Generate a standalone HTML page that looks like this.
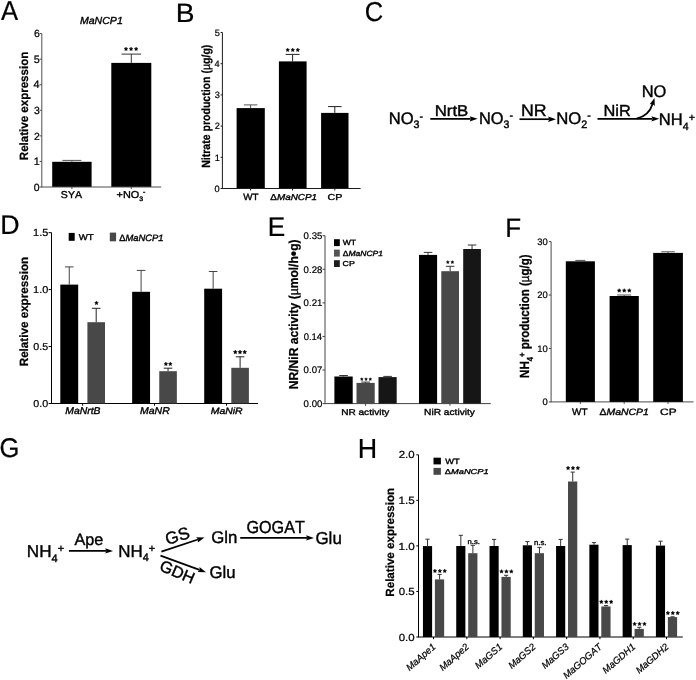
<!DOCTYPE html>
<html><head><meta charset="utf-8"><style>
html,body{margin:0;padding:0;background:#fff;width:696px;height:680px;overflow:hidden}
svg{display:block;will-change:transform}
text{font-family:"Liberation Sans",sans-serif;font-kerning:none;text-rendering:geometricPrecision;fill:#000;stroke:#000;stroke-width:0.22px}
</style></head><body>
<svg width="696" height="680" viewBox="0 0 696 680">
<rect width="696" height="680" fill="#fff"/>
<rect x="52.20" y="161.80" width="39.40" height="25.20" fill="#000"/>
<rect x="111.30" y="62.90" width="40.00" height="124.10" fill="#000"/>
<line x1="71.90" y1="161.80" x2="71.90" y2="160.40" stroke="#555" stroke-width="1"/>
<line x1="62.40" y1="160.40" x2="81.40" y2="160.40" stroke="#555" stroke-width="1"/>
<line x1="131.30" y1="62.90" x2="131.30" y2="54.10" stroke="#333" stroke-width="1"/>
<line x1="121.55" y1="54.10" x2="141.05" y2="54.10" stroke="#333" stroke-width="1"/>
<polygon points="125.99,47.00 126.58,48.19 127.89,48.38 126.94,49.30 127.16,50.60 125.99,49.99 124.82,50.60 125.05,49.30 124.10,48.38 125.41,48.19" fill="#000" stroke="#000" stroke-width="0.4" stroke-linejoin="round"/>
<polygon points="131.05,47.00 131.63,48.19 132.94,48.38 132.00,49.30 132.22,50.60 131.05,49.99 129.88,50.60 130.10,49.30 129.16,48.38 130.47,48.19" fill="#000" stroke="#000" stroke-width="0.4" stroke-linejoin="round"/>
<polygon points="136.11,47.00 136.69,48.19 138.00,48.38 137.05,49.30 137.28,50.60 136.11,49.99 134.94,50.60 135.16,49.30 134.21,48.38 135.52,48.19" fill="#000" stroke="#000" stroke-width="0.4" stroke-linejoin="round"/>
<line x1="41.80" y1="33.50" x2="41.80" y2="187.50" stroke="#4d4d4d" stroke-width="1"/>
<line x1="41.80" y1="187.00" x2="161.20" y2="187.00" stroke="#4d4d4d" stroke-width="1"/>
<line x1="39.60" y1="187.00" x2="41.80" y2="187.00" stroke="#4d4d4d" stroke-width="1"/>
<line x1="39.60" y1="161.43" x2="41.80" y2="161.43" stroke="#4d4d4d" stroke-width="1"/>
<line x1="39.60" y1="135.86" x2="41.80" y2="135.86" stroke="#4d4d4d" stroke-width="1"/>
<line x1="39.60" y1="110.29" x2="41.80" y2="110.29" stroke="#4d4d4d" stroke-width="1"/>
<line x1="39.60" y1="84.72" x2="41.80" y2="84.72" stroke="#4d4d4d" stroke-width="1"/>
<line x1="39.60" y1="59.15" x2="41.80" y2="59.15" stroke="#4d4d4d" stroke-width="1"/>
<line x1="39.60" y1="33.58" x2="41.80" y2="33.58" stroke="#4d4d4d" stroke-width="1"/>
<line x1="71.90" y1="187.00" x2="71.90" y2="189.00" stroke="#4d4d4d" stroke-width="1"/>
<line x1="131.30" y1="187.00" x2="131.30" y2="189.00" stroke="#4d4d4d" stroke-width="1"/>
<rect x="236.60" y="108.10" width="28.20" height="80.40" fill="#000"/>
<rect x="278.90" y="61.40" width="27.70" height="127.10" fill="#000"/>
<rect x="321.10" y="112.90" width="27.40" height="75.60" fill="#000"/>
<line x1="250.60" y1="108.10" x2="250.60" y2="104.90" stroke="#555" stroke-width="1"/>
<line x1="243.85" y1="104.90" x2="257.35" y2="104.90" stroke="#555" stroke-width="1"/>
<line x1="292.60" y1="61.40" x2="292.60" y2="54.40" stroke="#222" stroke-width="1"/>
<line x1="285.60" y1="54.40" x2="299.60" y2="54.40" stroke="#222" stroke-width="1"/>
<line x1="334.80" y1="112.90" x2="334.80" y2="106.60" stroke="#222" stroke-width="1"/>
<line x1="328.05" y1="106.60" x2="341.55" y2="106.60" stroke="#222" stroke-width="1"/>
<polygon points="287.69,48.00 288.28,49.19 289.59,49.38 288.64,50.30 288.86,51.60 287.69,50.99 286.52,51.60 286.75,50.30 285.80,49.38 287.11,49.19" fill="#000" stroke="#000" stroke-width="0.4" stroke-linejoin="round"/>
<polygon points="292.75,48.00 293.33,49.19 294.64,49.38 293.70,50.30 293.92,51.60 292.75,50.99 291.58,51.60 291.80,50.30 290.86,49.38 292.17,49.19" fill="#000" stroke="#000" stroke-width="0.4" stroke-linejoin="round"/>
<polygon points="297.81,48.00 298.39,49.19 299.70,49.38 298.75,50.30 298.98,51.60 297.81,50.99 296.64,51.60 296.86,50.30 295.91,49.38 297.22,49.19" fill="#000" stroke="#000" stroke-width="0.4" stroke-linejoin="round"/>
<line x1="222.40" y1="32.50" x2="222.40" y2="189.00" stroke="#1a1a1a" stroke-width="1"/>
<line x1="222.40" y1="188.50" x2="360.60" y2="188.50" stroke="#1a1a1a" stroke-width="1"/>
<line x1="220.60" y1="188.50" x2="222.40" y2="188.50" stroke="#1a1a1a" stroke-width="1"/>
<line x1="220.60" y1="157.30" x2="222.40" y2="157.30" stroke="#1a1a1a" stroke-width="1"/>
<line x1="220.60" y1="126.10" x2="222.40" y2="126.10" stroke="#1a1a1a" stroke-width="1"/>
<line x1="220.60" y1="94.90" x2="222.40" y2="94.90" stroke="#1a1a1a" stroke-width="1"/>
<line x1="220.60" y1="63.70" x2="222.40" y2="63.70" stroke="#1a1a1a" stroke-width="1"/>
<line x1="220.60" y1="32.50" x2="222.40" y2="32.50" stroke="#1a1a1a" stroke-width="1"/>
<line x1="250.60" y1="188.50" x2="250.60" y2="190.50" stroke="#1a1a1a" stroke-width="1"/>
<line x1="292.60" y1="188.50" x2="292.60" y2="190.50" stroke="#1a1a1a" stroke-width="1"/>
<line x1="334.80" y1="188.50" x2="334.80" y2="190.50" stroke="#1a1a1a" stroke-width="1"/>
<line x1="430.30" y1="118.85" x2="470.70" y2="118.85" stroke="#000" stroke-width="1.7"/>
<polygon points="477.60,118.85 469.70,121.55 470.90,118.85 469.70,116.15" fill="#000"/>
<line x1="519.50" y1="119.20" x2="549.10" y2="119.20" stroke="#000" stroke-width="1.7"/>
<polygon points="556.00,119.20 548.10,121.90 549.30,119.20 548.10,116.50" fill="#000"/>
<line x1="597.50" y1="118.85" x2="652.40" y2="118.85" stroke="#000" stroke-width="1.7"/>
<polygon points="659.30,118.85 651.40,121.55 652.60,118.85 651.40,116.15" fill="#000"/>
<path d="M 636.5 118.6 C 645 116.8, 650.5 111, 652.7 103.5" fill="none" stroke="#000" stroke-width="1.8"/>
<polygon points="654.5,98.0 649.7,104.3 652.6,103.9 654.8,105.9" fill="#000"/>
<line x1="51.50" y1="232.65" x2="51.50" y2="404.00" stroke="#000" stroke-width="1"/>
<line x1="51.50" y1="403.50" x2="258.00" y2="403.50" stroke="#000" stroke-width="1"/>
<line x1="48.60" y1="403.50" x2="51.50" y2="403.50" stroke="#000" stroke-width="1"/>
<line x1="48.60" y1="346.55" x2="51.50" y2="346.55" stroke="#000" stroke-width="1"/>
<line x1="48.60" y1="289.60" x2="51.50" y2="289.60" stroke="#000" stroke-width="1"/>
<line x1="48.60" y1="232.65" x2="51.50" y2="232.65" stroke="#000" stroke-width="1"/>
<rect x="68.70" y="232.90" width="6.00" height="7.90" fill="#000"/>
<rect x="109.80" y="232.60" width="6.30" height="8.70" fill="#484848"/>
<rect x="60.30" y="284.60" width="17.90" height="118.90" fill="#000"/>
<rect x="87.40" y="322.20" width="17.60" height="81.30" fill="#484848"/>
<line x1="69.25" y1="284.60" x2="69.25" y2="266.90" stroke="#444" stroke-width="1"/>
<line x1="64.95" y1="266.90" x2="73.55" y2="266.90" stroke="#444" stroke-width="1"/>
<line x1="96.20" y1="322.20" x2="96.20" y2="308.30" stroke="#222" stroke-width="1"/>
<line x1="91.90" y1="308.30" x2="100.50" y2="308.30" stroke="#222" stroke-width="1"/>
<polygon points="96.45,301.00 97.05,302.22 98.40,302.41 97.42,303.36 97.65,304.70 96.45,304.07 95.25,304.70 95.48,303.36 94.50,302.41 95.85,302.22" fill="#000" stroke="#000" stroke-width="0.4" stroke-linejoin="round"/>
<line x1="82.65" y1="403.50" x2="82.65" y2="405.70" stroke="#000" stroke-width="1"/>
<rect x="132.15" y="291.80" width="17.90" height="111.70" fill="#000"/>
<rect x="159.25" y="371.20" width="17.60" height="32.30" fill="#484848"/>
<line x1="141.10" y1="291.80" x2="141.10" y2="270.40" stroke="#444" stroke-width="1"/>
<line x1="136.80" y1="270.40" x2="145.40" y2="270.40" stroke="#444" stroke-width="1"/>
<line x1="168.05" y1="371.20" x2="168.05" y2="368.20" stroke="#222" stroke-width="1"/>
<line x1="163.75" y1="368.20" x2="172.35" y2="368.20" stroke="#222" stroke-width="1"/>
<polygon points="165.89,362.00 166.48,363.19 167.79,363.38 166.84,364.30 167.06,365.60 165.89,364.99 164.72,365.60 164.95,364.30 164.00,363.38 165.31,363.19" fill="#000" stroke="#000" stroke-width="0.4" stroke-linejoin="round"/>
<polygon points="170.31,362.00 170.89,363.19 172.20,363.38 171.25,364.30 171.48,365.60 170.31,364.99 169.14,365.60 169.36,364.30 168.41,363.38 169.72,363.19" fill="#000" stroke="#000" stroke-width="0.4" stroke-linejoin="round"/>
<line x1="154.50" y1="403.50" x2="154.50" y2="405.70" stroke="#000" stroke-width="1"/>
<rect x="204.20" y="288.70" width="17.90" height="114.80" fill="#000"/>
<rect x="231.30" y="367.80" width="17.60" height="35.70" fill="#484848"/>
<line x1="213.15" y1="288.70" x2="213.15" y2="271.50" stroke="#444" stroke-width="1"/>
<line x1="208.85" y1="271.50" x2="217.45" y2="271.50" stroke="#444" stroke-width="1"/>
<line x1="240.10" y1="367.80" x2="240.10" y2="356.80" stroke="#222" stroke-width="1"/>
<line x1="235.80" y1="356.80" x2="244.40" y2="356.80" stroke="#222" stroke-width="1"/>
<polygon points="235.30,350.00 235.92,351.25 237.30,351.45 236.30,352.43 236.53,353.80 235.30,353.15 234.06,353.80 234.30,352.43 233.30,351.45 234.68,351.25" fill="#000" stroke="#000" stroke-width="0.4" stroke-linejoin="round"/>
<polygon points="240.00,350.00 240.62,351.25 242.00,351.45 241.00,352.43 241.23,353.80 240.00,353.15 238.77,353.80 239.00,352.43 238.00,351.45 239.38,351.25" fill="#000" stroke="#000" stroke-width="0.4" stroke-linejoin="round"/>
<polygon points="244.70,350.00 245.32,351.25 246.70,351.45 245.70,352.43 245.94,353.80 244.70,353.15 243.47,353.80 243.70,352.43 242.70,351.45 244.08,351.25" fill="#000" stroke="#000" stroke-width="0.4" stroke-linejoin="round"/>
<line x1="226.55" y1="403.50" x2="226.55" y2="405.70" stroke="#000" stroke-width="1"/>
<line x1="325.00" y1="235.70" x2="325.00" y2="404.10" stroke="#444" stroke-width="1"/>
<line x1="325.00" y1="403.60" x2="490.80" y2="403.60" stroke="#444" stroke-width="1"/>
<line x1="322.50" y1="403.60" x2="325.00" y2="403.60" stroke="#444" stroke-width="1"/>
<line x1="322.50" y1="370.02" x2="325.00" y2="370.02" stroke="#444" stroke-width="1"/>
<line x1="322.50" y1="336.44" x2="325.00" y2="336.44" stroke="#444" stroke-width="1"/>
<line x1="322.50" y1="302.86" x2="325.00" y2="302.86" stroke="#444" stroke-width="1"/>
<line x1="322.50" y1="269.28" x2="325.00" y2="269.28" stroke="#444" stroke-width="1"/>
<line x1="322.50" y1="235.70" x2="325.00" y2="235.70" stroke="#444" stroke-width="1"/>
<rect x="334.00" y="239.20" width="5.80" height="6.90" fill="#000"/>
<rect x="334.00" y="249.60" width="5.80" height="7.00" fill="#555"/>
<rect x="334.00" y="260.20" width="5.80" height="6.80" fill="#1e1e1e"/>
<rect x="334.40" y="376.50" width="18.30" height="27.10" fill="#000"/>
<line x1="343.55" y1="376.50" x2="343.55" y2="375.50" stroke="#333" stroke-width="1"/>
<line x1="339.25" y1="375.50" x2="347.85" y2="375.50" stroke="#333" stroke-width="1"/>
<rect x="356.50" y="382.90" width="18.20" height="20.70" fill="#484848"/>
<line x1="365.60" y1="382.90" x2="365.60" y2="382.10" stroke="#333" stroke-width="1"/>
<line x1="361.30" y1="382.10" x2="369.90" y2="382.10" stroke="#333" stroke-width="1"/>
<rect x="378.50" y="377.10" width="18.20" height="26.50" fill="#161616"/>
<line x1="387.60" y1="377.10" x2="387.60" y2="376.40" stroke="#333" stroke-width="1"/>
<line x1="383.30" y1="376.40" x2="391.90" y2="376.40" stroke="#333" stroke-width="1"/>
<rect x="419.00" y="254.90" width="18.10" height="148.70" fill="#000"/>
<line x1="428.05" y1="254.90" x2="428.05" y2="252.40" stroke="#333" stroke-width="1"/>
<line x1="423.75" y1="252.40" x2="432.35" y2="252.40" stroke="#333" stroke-width="1"/>
<rect x="441.30" y="271.20" width="17.70" height="132.40" fill="#484848"/>
<line x1="450.15" y1="271.20" x2="450.15" y2="266.30" stroke="#333" stroke-width="1"/>
<line x1="445.85" y1="266.30" x2="454.45" y2="266.30" stroke="#333" stroke-width="1"/>
<rect x="463.20" y="249.00" width="17.70" height="154.60" fill="#161616"/>
<line x1="472.05" y1="249.00" x2="472.05" y2="245.00" stroke="#333" stroke-width="1"/>
<line x1="467.75" y1="245.00" x2="476.35" y2="245.00" stroke="#333" stroke-width="1"/>
<polygon points="361.82,377.70 362.26,378.59 363.24,378.73 362.53,379.42 362.70,380.40 361.82,379.94 360.94,380.40 361.11,379.42 360.40,378.73 361.38,378.59" fill="#000" stroke="#000" stroke-width="0.4" stroke-linejoin="round"/>
<polygon points="366.05,377.70 366.49,378.59 367.47,378.73 366.76,379.42 366.93,380.40 366.05,379.94 365.17,380.40 365.34,379.42 364.63,378.73 365.61,378.59" fill="#000" stroke="#000" stroke-width="0.4" stroke-linejoin="round"/>
<polygon points="370.28,377.70 370.72,378.59 371.70,378.73 370.99,379.42 371.16,380.40 370.28,379.94 369.40,380.40 369.57,379.42 368.86,378.73 369.84,378.59" fill="#000" stroke="#000" stroke-width="0.4" stroke-linejoin="round"/>
<polygon points="447.82,260.60 448.30,261.55 449.35,261.71 448.59,262.45 448.77,263.50 447.82,263.00 446.88,263.50 447.06,262.45 446.30,261.71 447.35,261.55" fill="#000" stroke="#000" stroke-width="0.4" stroke-linejoin="round"/>
<polygon points="452.38,260.60 452.85,261.55 453.90,261.71 453.14,262.45 453.32,263.50 452.38,263.00 451.43,263.50 451.61,262.45 450.85,261.71 451.90,261.55" fill="#000" stroke="#000" stroke-width="0.4" stroke-linejoin="round"/>
<line x1="365.55" y1="403.60" x2="365.55" y2="405.80" stroke="#444" stroke-width="1"/>
<line x1="449.95" y1="403.60" x2="449.95" y2="405.80" stroke="#444" stroke-width="1"/>
<line x1="551.10" y1="241.61" x2="551.10" y2="402.40" stroke="#4a4a4a" stroke-width="1"/>
<line x1="551.10" y1="401.90" x2="693.60" y2="401.90" stroke="#4a4a4a" stroke-width="1"/>
<line x1="548.80" y1="401.90" x2="551.10" y2="401.90" stroke="#4a4a4a" stroke-width="1"/>
<line x1="548.80" y1="348.47" x2="551.10" y2="348.47" stroke="#4a4a4a" stroke-width="1"/>
<line x1="548.80" y1="295.04" x2="551.10" y2="295.04" stroke="#4a4a4a" stroke-width="1"/>
<line x1="548.80" y1="241.61" x2="551.10" y2="241.61" stroke="#4a4a4a" stroke-width="1"/>
<rect x="565.80" y="261.30" width="29.10" height="140.60" fill="#000"/>
<line x1="580.35" y1="261.30" x2="580.35" y2="260.40" stroke="#555" stroke-width="1"/>
<line x1="575.35" y1="260.40" x2="585.35" y2="260.40" stroke="#555" stroke-width="1"/>
<line x1="580.35" y1="401.90" x2="580.35" y2="403.90" stroke="#4a4a4a" stroke-width="1"/>
<rect x="609.60" y="296.00" width="29.20" height="105.90" fill="#000"/>
<line x1="624.20" y1="296.00" x2="624.20" y2="295.00" stroke="#555" stroke-width="1"/>
<line x1="617.20" y1="295.00" x2="631.20" y2="295.00" stroke="#555" stroke-width="1"/>
<line x1="624.20" y1="401.90" x2="624.20" y2="403.90" stroke="#4a4a4a" stroke-width="1"/>
<rect x="653.20" y="252.90" width="29.70" height="149.00" fill="#000"/>
<line x1="668.05" y1="252.90" x2="668.05" y2="251.80" stroke="#555" stroke-width="1"/>
<line x1="661.25" y1="251.80" x2="674.85" y2="251.80" stroke="#555" stroke-width="1"/>
<line x1="668.05" y1="401.90" x2="668.05" y2="403.90" stroke="#4a4a4a" stroke-width="1"/>
<polygon points="619.19,288.60 619.78,289.79 621.09,289.98 620.14,290.90 620.36,292.20 619.19,291.59 618.02,292.20 618.25,290.90 617.30,289.98 618.61,289.79" fill="#000" stroke="#000" stroke-width="0.4" stroke-linejoin="round"/>
<polygon points="624.25,288.60 624.83,289.79 626.14,289.98 625.20,290.90 625.42,292.20 624.25,291.59 623.08,292.20 623.30,290.90 622.36,289.98 623.67,289.79" fill="#000" stroke="#000" stroke-width="0.4" stroke-linejoin="round"/>
<polygon points="629.31,288.60 629.89,289.79 631.20,289.98 630.25,290.90 630.48,292.20 629.31,291.59 628.14,292.20 628.36,290.90 627.41,289.98 628.72,289.79" fill="#000" stroke="#000" stroke-width="0.4" stroke-linejoin="round"/>
<line x1="68.90" y1="550.90" x2="106.20" y2="550.90" stroke="#000" stroke-width="1.7"/>
<polygon points="113.10,550.90 105.20,553.60 106.40,550.90 105.20,548.20" fill="#000"/>
<line x1="161.40" y1="551.60" x2="197.95" y2="539.56" stroke="#000" stroke-width="1.7"/>
<polygon points="204.50,537.40 197.84,542.44 198.14,539.50 196.15,537.31" fill="#000"/>
<line x1="160.50" y1="555.60" x2="199.52" y2="569.92" stroke="#000" stroke-width="1.7"/>
<polygon points="206.00,572.30 197.65,572.11 199.71,569.99 199.51,567.04" fill="#000"/>
<line x1="240.20" y1="537.90" x2="307.10" y2="537.90" stroke="#000" stroke-width="1.7"/>
<polygon points="314.00,537.90 306.10,540.60 307.30,537.90 306.10,535.20" fill="#000"/>
<text transform="translate(167.3,544.9) rotate(-17)" style="font-size:17px;stroke-width:0.4px">GS</text>
<text transform="translate(158.6,570) rotate(23)" style="font-size:16.3px;stroke-width:0.4px">GDH</text>
<line x1="418.50" y1="454.80" x2="418.50" y2="637.50" stroke="#000" stroke-width="1"/>
<line x1="418.50" y1="637.00" x2="682.80" y2="637.00" stroke="#000" stroke-width="1"/>
<line x1="416.30" y1="637.00" x2="418.50" y2="637.00" stroke="#000" stroke-width="1"/>
<line x1="416.30" y1="591.45" x2="418.50" y2="591.45" stroke="#000" stroke-width="1"/>
<line x1="416.30" y1="545.90" x2="418.50" y2="545.90" stroke="#000" stroke-width="1"/>
<line x1="416.30" y1="500.35" x2="418.50" y2="500.35" stroke="#000" stroke-width="1"/>
<line x1="416.30" y1="454.80" x2="418.50" y2="454.80" stroke="#000" stroke-width="1"/>
<rect x="433.50" y="457.70" width="7.40" height="6.70" fill="#000"/>
<rect x="433.50" y="467.90" width="7.40" height="6.90" fill="#484848"/>
<rect x="422.95" y="546.10" width="9.15" height="90.90" fill="#000"/>
<rect x="434.90" y="579.40" width="9.25" height="57.60" fill="#484848"/>
<line x1="427.55" y1="546.10" x2="427.55" y2="539.20" stroke="#333" stroke-width="1"/>
<line x1="425.45" y1="539.20" x2="429.65" y2="539.20" stroke="#333" stroke-width="1"/>
<line x1="439.60" y1="579.40" x2="439.60" y2="574.40" stroke="#333" stroke-width="1"/>
<line x1="437.50" y1="574.40" x2="441.70" y2="574.40" stroke="#333" stroke-width="1"/>
<line x1="433.55" y1="637.00" x2="433.55" y2="639.20" stroke="#000" stroke-width="1"/>
<polygon points="434.94,569.00 435.53,570.19 436.84,570.38 435.89,571.30 436.11,572.60 434.94,571.99 433.77,572.60 434.00,571.30 433.05,570.38 434.36,570.19" fill="#000" stroke="#000" stroke-width="0.4" stroke-linejoin="round"/>
<polygon points="439.85,569.00 440.43,570.19 441.74,570.38 440.80,571.30 441.02,572.60 439.85,571.99 438.68,572.60 438.90,571.30 437.96,570.38 439.27,570.19" fill="#000" stroke="#000" stroke-width="0.4" stroke-linejoin="round"/>
<polygon points="444.76,569.00 445.34,570.19 446.65,570.38 445.70,571.30 445.93,572.60 444.76,571.99 443.59,572.60 443.81,571.30 442.86,570.38 444.17,570.19" fill="#000" stroke="#000" stroke-width="0.4" stroke-linejoin="round"/>
<text transform="translate(436.35,647.80) rotate(-41)" style="font-size:9.6px;font-style:italic" text-anchor="end">MaApe1</text>
<rect x="456.23" y="546.00" width="9.15" height="91.00" fill="#000"/>
<rect x="468.18" y="553.20" width="9.25" height="83.80" fill="#484848"/>
<line x1="460.83" y1="546.00" x2="460.83" y2="535.30" stroke="#333" stroke-width="1"/>
<line x1="458.73" y1="535.30" x2="462.93" y2="535.30" stroke="#333" stroke-width="1"/>
<line x1="472.88" y1="553.20" x2="472.88" y2="545.30" stroke="#333" stroke-width="1"/>
<line x1="470.78" y1="545.30" x2="474.98" y2="545.30" stroke="#333" stroke-width="1"/>
<line x1="466.83" y1="637.00" x2="466.83" y2="639.20" stroke="#000" stroke-width="1"/>
<text transform="translate(469.63,647.80) rotate(-41)" style="font-size:9.6px;font-style:italic" text-anchor="end">MaApe2</text>
<rect x="489.51" y="546.00" width="9.15" height="91.00" fill="#000"/>
<rect x="501.46" y="576.90" width="9.25" height="60.10" fill="#484848"/>
<line x1="494.11" y1="546.00" x2="494.11" y2="539.40" stroke="#333" stroke-width="1"/>
<line x1="492.01" y1="539.40" x2="496.21" y2="539.40" stroke="#333" stroke-width="1"/>
<line x1="506.16" y1="576.90" x2="506.16" y2="575.30" stroke="#333" stroke-width="1"/>
<line x1="504.06" y1="575.30" x2="508.26" y2="575.30" stroke="#333" stroke-width="1"/>
<line x1="500.11" y1="637.00" x2="500.11" y2="639.20" stroke="#000" stroke-width="1"/>
<polygon points="501.50,569.50 502.09,570.69 503.40,570.88 502.45,571.80 502.67,573.10 501.50,572.49 500.33,573.10 500.56,571.80 499.61,570.88 500.92,570.69" fill="#000" stroke="#000" stroke-width="0.4" stroke-linejoin="round"/>
<polygon points="506.41,569.50 506.99,570.69 508.30,570.88 507.36,571.80 507.58,573.10 506.41,572.49 505.24,573.10 505.46,571.80 504.52,570.88 505.83,570.69" fill="#000" stroke="#000" stroke-width="0.4" stroke-linejoin="round"/>
<polygon points="511.32,569.50 511.90,570.69 513.21,570.88 512.26,571.80 512.49,573.10 511.32,572.49 510.15,573.10 510.37,571.80 509.42,570.88 510.73,570.69" fill="#000" stroke="#000" stroke-width="0.4" stroke-linejoin="round"/>
<text transform="translate(502.91,647.80) rotate(-41)" style="font-size:9.6px;font-style:italic" text-anchor="end">MaGS1</text>
<rect x="522.79" y="545.30" width="9.15" height="91.70" fill="#000"/>
<rect x="534.74" y="553.20" width="9.25" height="83.80" fill="#484848"/>
<line x1="527.39" y1="545.30" x2="527.39" y2="541.60" stroke="#333" stroke-width="1"/>
<line x1="525.29" y1="541.60" x2="529.49" y2="541.60" stroke="#333" stroke-width="1"/>
<line x1="539.44" y1="553.20" x2="539.44" y2="547.40" stroke="#333" stroke-width="1"/>
<line x1="537.34" y1="547.40" x2="541.54" y2="547.40" stroke="#333" stroke-width="1"/>
<line x1="533.39" y1="637.00" x2="533.39" y2="639.20" stroke="#000" stroke-width="1"/>
<text transform="translate(536.19,647.80) rotate(-41)" style="font-size:9.6px;font-style:italic" text-anchor="end">MaGS2</text>
<rect x="556.07" y="546.00" width="9.15" height="91.00" fill="#000"/>
<rect x="568.02" y="481.50" width="9.25" height="155.50" fill="#484848"/>
<line x1="560.67" y1="546.00" x2="560.67" y2="539.40" stroke="#333" stroke-width="1"/>
<line x1="558.57" y1="539.40" x2="562.77" y2="539.40" stroke="#333" stroke-width="1"/>
<line x1="572.72" y1="481.50" x2="572.72" y2="472.10" stroke="#333" stroke-width="1"/>
<line x1="570.62" y1="472.10" x2="574.82" y2="472.10" stroke="#333" stroke-width="1"/>
<line x1="566.67" y1="637.00" x2="566.67" y2="639.20" stroke="#000" stroke-width="1"/>
<polygon points="568.06,466.10 568.65,467.29 569.96,467.48 569.01,468.40 569.23,469.70 568.06,469.09 566.89,469.70 567.12,468.40 566.17,467.48 567.48,467.29" fill="#000" stroke="#000" stroke-width="0.4" stroke-linejoin="round"/>
<polygon points="572.97,466.10 573.55,467.29 574.86,467.48 573.92,468.40 574.14,469.70 572.97,469.09 571.80,469.70 572.02,468.40 571.08,467.48 572.39,467.29" fill="#000" stroke="#000" stroke-width="0.4" stroke-linejoin="round"/>
<polygon points="577.88,466.10 578.46,467.29 579.77,467.48 578.82,468.40 579.05,469.70 577.88,469.09 576.71,469.70 576.93,468.40 575.98,467.48 577.29,467.29" fill="#000" stroke="#000" stroke-width="0.4" stroke-linejoin="round"/>
<text transform="translate(569.47,647.80) rotate(-41)" style="font-size:9.6px;font-style:italic" text-anchor="end">MaGS3</text>
<rect x="589.35" y="544.70" width="9.15" height="92.30" fill="#000"/>
<rect x="601.30" y="606.50" width="9.25" height="30.50" fill="#484848"/>
<line x1="593.95" y1="544.70" x2="593.95" y2="542.60" stroke="#333" stroke-width="1"/>
<line x1="591.85" y1="542.60" x2="596.05" y2="542.60" stroke="#333" stroke-width="1"/>
<line x1="606.00" y1="606.50" x2="606.00" y2="605.60" stroke="#333" stroke-width="1"/>
<line x1="603.90" y1="605.60" x2="608.10" y2="605.60" stroke="#333" stroke-width="1"/>
<line x1="599.95" y1="637.00" x2="599.95" y2="639.20" stroke="#000" stroke-width="1"/>
<polygon points="601.34,599.90 601.93,601.09 603.24,601.28 602.29,602.20 602.51,603.50 601.34,602.89 600.17,603.50 600.40,602.20 599.45,601.28 600.76,601.09" fill="#000" stroke="#000" stroke-width="0.4" stroke-linejoin="round"/>
<polygon points="606.25,599.90 606.83,601.09 608.14,601.28 607.20,602.20 607.42,603.50 606.25,602.89 605.08,603.50 605.30,602.20 604.36,601.28 605.67,601.09" fill="#000" stroke="#000" stroke-width="0.4" stroke-linejoin="round"/>
<polygon points="611.16,599.90 611.74,601.09 613.05,601.28 612.10,602.20 612.33,603.50 611.16,602.89 609.99,603.50 610.21,602.20 609.26,601.28 610.57,601.09" fill="#000" stroke="#000" stroke-width="0.4" stroke-linejoin="round"/>
<text transform="translate(602.75,647.80) rotate(-41)" style="font-size:9.6px;font-style:italic" text-anchor="end">MaGOGAT</text>
<rect x="622.63" y="545.10" width="9.15" height="91.90" fill="#000"/>
<rect x="634.58" y="628.90" width="9.25" height="8.10" fill="#484848"/>
<line x1="627.23" y1="545.10" x2="627.23" y2="539.10" stroke="#333" stroke-width="1"/>
<line x1="625.13" y1="539.10" x2="629.33" y2="539.10" stroke="#333" stroke-width="1"/>
<line x1="639.28" y1="628.90" x2="639.28" y2="627.30" stroke="#333" stroke-width="1"/>
<line x1="637.18" y1="627.30" x2="641.38" y2="627.30" stroke="#333" stroke-width="1"/>
<line x1="633.23" y1="637.00" x2="633.23" y2="639.20" stroke="#000" stroke-width="1"/>
<polygon points="634.62,622.00 635.21,623.19 636.52,623.38 635.57,624.30 635.79,625.60 634.62,624.99 633.45,625.60 633.68,624.30 632.73,623.38 634.04,623.19" fill="#000" stroke="#000" stroke-width="0.4" stroke-linejoin="round"/>
<polygon points="639.53,622.00 640.11,623.19 641.42,623.38 640.48,624.30 640.70,625.60 639.53,624.99 638.36,625.60 638.58,624.30 637.64,623.38 638.95,623.19" fill="#000" stroke="#000" stroke-width="0.4" stroke-linejoin="round"/>
<polygon points="644.44,622.00 645.02,623.19 646.33,623.38 645.38,624.30 645.61,625.60 644.44,624.99 643.27,625.60 643.49,624.30 642.54,623.38 643.85,623.19" fill="#000" stroke="#000" stroke-width="0.4" stroke-linejoin="round"/>
<text transform="translate(636.03,647.80) rotate(-41)" style="font-size:9.6px;font-style:italic" text-anchor="end">MaGDH1</text>
<rect x="655.91" y="545.60" width="9.15" height="91.40" fill="#000"/>
<rect x="667.86" y="617.10" width="9.25" height="19.90" fill="#484848"/>
<line x1="660.51" y1="545.60" x2="660.51" y2="541.20" stroke="#333" stroke-width="1"/>
<line x1="658.41" y1="541.20" x2="662.61" y2="541.20" stroke="#333" stroke-width="1"/>
<line x1="672.56" y1="617.10" x2="672.56" y2="616.80" stroke="#333" stroke-width="1"/>
<line x1="670.46" y1="616.80" x2="674.66" y2="616.80" stroke="#333" stroke-width="1"/>
<line x1="666.51" y1="637.00" x2="666.51" y2="639.20" stroke="#000" stroke-width="1"/>
<polygon points="667.90,611.10 668.49,612.29 669.80,612.48 668.85,613.40 669.07,614.70 667.90,614.09 666.73,614.70 666.96,613.40 666.01,612.48 667.32,612.29" fill="#000" stroke="#000" stroke-width="0.4" stroke-linejoin="round"/>
<polygon points="672.81,611.10 673.39,612.29 674.70,612.48 673.76,613.40 673.98,614.70 672.81,614.09 671.64,614.70 671.86,613.40 670.92,612.48 672.23,612.29" fill="#000" stroke="#000" stroke-width="0.4" stroke-linejoin="round"/>
<polygon points="677.72,611.10 678.30,612.29 679.61,612.48 678.66,613.40 678.89,614.70 677.72,614.09 676.55,614.70 676.77,613.40 675.82,612.48 677.13,612.29" fill="#000" stroke="#000" stroke-width="0.4" stroke-linejoin="round"/>
<text transform="translate(669.31,647.80) rotate(-41)" style="font-size:9.6px;font-style:italic" text-anchor="end">MaGDH2</text>
<text transform="translate(0.900,19.500) scale(0.9855,1.0535)" style="font-size:26px;">A</text>
<text transform="translate(175.762,21.900) scale(1.0836,1.0197)" style="font-size:26px;">B</text>
<text transform="translate(364.773,21.337) scale(0.9818,1.0521)" style="font-size:26px;">C</text>
<text transform="translate(0.184,233.900) scale(1.0295,1.0423)" style="font-size:26px;">D</text>
<text transform="translate(267.834,235.600) scale(1.0071,1.0366)" style="font-size:26px;">E</text>
<text transform="translate(505.250,237.100) scale(1.0000,1.0254)" style="font-size:26px;">F</text>
<text transform="translate(-0.428,457.040) scale(0.9824,1.0411)" style="font-size:26px;">G</text>
<text transform="translate(357.772,457.800) scale(1.0345,1.0592)" style="font-size:26px;">H</text>
<text transform="translate(33.725,190.650) scale(1.0429,1.0429)" style="font-size:10px;">0</text>
<text transform="translate(33.793,165.080) scale(1.0815,1.0815)" style="font-size:10px;">1</text>
<text transform="translate(33.986,139.510) scale(1.0429,1.0429)" style="font-size:10px;">2</text>
<text transform="translate(33.986,113.940) scale(1.0429,1.0429)" style="font-size:10px;">3</text>
<text transform="translate(33.522,88.370) scale(1.0815,1.0815)" style="font-size:10px;">4</text>
<text transform="translate(33.793,62.800) scale(1.0815,1.0815)" style="font-size:10px;">5</text>
<text transform="translate(33.986,37.230) scale(1.0429,1.0429)" style="font-size:10px;">6</text>
<text transform="translate(60.874,198.300) scale(1.0513,1.0000)" style="font-size:10px;;stroke-width:0.370px">SYA</text>
<text transform="translate(116.556,198.174) scale(1.0874,1.0105)" style="font-size:10px;;stroke-width:0.362px">+NO<tspan dy="2.6" font-size="6.4">3</tspan><tspan dy="-6.6" font-size="6.4">-</tspan></text>
<text transform="translate(79.936,23.700) scale(1.0557,1.0143)" style="font-size:10px;font-style:italic;stroke-width:0.367px">MaNCP1</text>
<text transform="rotate(-90) translate(-160.160,28.343) scale(1.0133,1.0476)" style="font-size:11.4px;font-weight:bold">Relative expression</text>
<text transform="translate(214.436,191.700) scale(1.0240,1.0240)" style="font-size:9px;">0</text>
<text transform="translate(214.692,160.500) scale(1.0240,1.0240)" style="font-size:9px;">1</text>
<text transform="translate(214.692,129.300) scale(1.0240,1.0240)" style="font-size:9px;">2</text>
<text transform="translate(214.692,98.100) scale(1.0240,1.0240)" style="font-size:9px;">3</text>
<text transform="translate(214.436,66.900) scale(1.0240,1.0240)" style="font-size:9px;">4</text>
<text transform="translate(214.692,35.700) scale(1.0240,1.0240)" style="font-size:9px;">5</text>
<text transform="translate(243.300,199.700) scale(0.9836,0.9037)" style="font-size:10px;;stroke-width:0.403px">WT</text>
<text transform="translate(270.353,199.900) scale(0.9881,0.8571)" style="font-size:10px;;stroke-width:0.412px">&#916;<tspan style="font-style:italic">MaNCP1</tspan></text>
<text transform="translate(327.563,200.200) scale(1.0745,0.8571)" style="font-size:10px;;stroke-width:0.393px">CP</text>
<text transform="rotate(-90) translate(-167.861,209.938) scale(1.0146,1.1385)" style="font-size:10.4px;font-weight:bold">Nitrate production (<tspan style="font-weight:normal">&#181;</tspan>g/g)</text>
<text transform="translate(388.706,123.730) scale(1.0349,1.0426)" style="font-size:16px;;stroke-width:0.385px">NO<tspan dy="4.0" font-size="10.3">3</tspan><tspan dy="-7.9" font-size="10.3">-</tspan></text>
<text transform="translate(479.022,123.503) scale(1.0222,1.0492)" style="font-size:16px;;stroke-width:0.386px">NO<tspan dy="4.0" font-size="10.3">3</tspan><tspan dy="-7.9" font-size="10.3">-</tspan></text>
<text transform="translate(556.194,123.503) scale(1.0444,1.0492)" style="font-size:16px;;stroke-width:0.382px">NO<tspan dy="4.0" font-size="10.3">2</tspan><tspan dy="-7.9" font-size="10.3">-</tspan></text>
<text transform="translate(658.807,125.340) scale(1.0346,1.0400)" style="font-size:16px;;stroke-width:0.386px">NH<tspan dy="4.0" font-size="10.3">4</tspan><tspan dy="-8.6" font-size="10.3">+</tspan></text>
<text transform="translate(641.716,96.839) scale(1.0273,1.0435)" style="font-size:16px;;stroke-width:0.386px">NO</text>
<text transform="translate(434.698,115.600) scale(1.1214,1.0439)" style="font-size:15px;;stroke-width:0.369px">NrtB</text>
<text transform="translate(521.019,115.900) scale(1.1846,1.1220)" style="font-size:15px;;stroke-width:0.347px">NR</text>
<text transform="translate(603.436,115.700) scale(1.0913,1.0605)" style="font-size:15px;;stroke-width:0.372px">NiR</text>
<text transform="translate(33.365,407.000) scale(1.0692,1.0000)" style="font-size:10px;">0.0</text>
<text transform="translate(33.365,350.050) scale(1.0692,1.0000)" style="font-size:10px;">0.5</text>
<text transform="translate(33.082,293.100) scale(1.0902,1.0000)" style="font-size:10px;">1.0</text>
<text transform="translate(33.082,236.150) scale(1.0902,1.0370)" style="font-size:10px;">1.5</text>
<text transform="translate(78.800,239.600) scale(1.0618,0.9280)" style="font-size:9px;;stroke-width:0.382px">WT</text>
<text transform="translate(119.140,240.700) scale(1.0410,1.0240)" style="font-size:9px;;stroke-width:0.368px">&#916;<tspan style="font-style:italic">MaNCP1</tspan></text>
<text transform="translate(65.240,414.400) scale(1.0406,0.9778)" style="font-size:10px;font-style:italic;stroke-width:0.377px">MaNrtB</text>
<text transform="translate(139.937,414.400) scale(1.0523,0.9778)" style="font-size:10px;font-style:italic;stroke-width:0.374px">MaNR</text>
<text transform="translate(210.739,414.400) scale(1.0433,0.9103)" style="font-size:10px;font-style:italic;stroke-width:0.389px">MaNiR</text>
<text transform="rotate(-90) translate(-366.267,28.343) scale(1.0227,1.0476)" style="font-size:11.4px;font-weight:bold">Relative expression</text>
<text transform="translate(303.619,406.950) scale(0.9622,0.9571)" style="font-size:10px;">0.00</text>
<text transform="translate(303.619,373.370) scale(0.9622,0.9571)" style="font-size:10px;">0.07</text>
<text transform="translate(303.625,339.790) scale(0.9493,0.9571)" style="font-size:10px;">0.14</text>
<text transform="translate(303.619,306.210) scale(0.9622,0.9571)" style="font-size:10px;">0.21</text>
<text transform="translate(303.619,272.630) scale(0.9622,0.9571)" style="font-size:10px;">0.28</text>
<text transform="translate(303.619,239.050) scale(0.9622,0.9571)" style="font-size:10px;">0.35</text>
<text transform="translate(342.700,245.300) scale(0.9600,0.8320)" style="font-size:9px;;stroke-width:0.424px">WT</text>
<text transform="translate(342.764,256.200) scale(0.9446,0.8320)" style="font-size:9px;;stroke-width:0.428px">&#916;<tspan style="font-style:italic">MaNCP1</tspan></text>
<text transform="translate(342.509,266.100) scale(0.9826,0.8000)" style="font-size:9px;;stroke-width:0.426px">CP</text>
<text transform="translate(341.144,414.814) scale(1.0085,0.8432)" style="font-size:10px;;stroke-width:0.410px">NR activity</text>
<text transform="translate(424.037,414.749) scale(1.0173,0.8757)" style="font-size:10px;;stroke-width:0.401px">NiR activity</text>
<text transform="rotate(-90) translate(-389.154,297.789) scale(1.0054,1.0844)" style="font-size:12px;font-weight:bold">NR/NiR activity (<tspan style="font-weight:normal">&#181;</tspan>mol/h<tspan font-size="15" dy="1.2">&#8226;</tspan><tspan dy="-1.2">g</tspan>)</text>
<text transform="translate(542.550,405.200) scale(0.9429,0.9429)" style="font-size:10px;">0</text>
<text transform="translate(537.364,351.770) scale(0.9429,0.9429)" style="font-size:10px;">10</text>
<text transform="translate(537.364,298.340) scale(0.9429,0.9429)" style="font-size:10px;">20</text>
<text transform="translate(537.364,244.910) scale(0.9429,0.9429)" style="font-size:10px;">30</text>
<text transform="translate(572.000,415.100) scale(0.9967,0.9481)" style="font-size:10px;;stroke-width:0.391px">WT</text>
<text transform="translate(599.539,415.100) scale(1.0422,0.9143)" style="font-size:10px;;stroke-width:0.388px">&#916;<tspan style="font-style:italic">MaNCP1</tspan></text>
<text transform="translate(660.108,415.100) scale(1.1843,0.9143)" style="font-size:10px;;stroke-width:0.362px">CP</text>
<text transform="rotate(-90) translate(-377.922,529.354) scale(1.0966,1.2585)" style="font-size:10.5px;font-weight:bold">NH<tspan dy="2.6" font-size="7">4</tspan><tspan dy="-6.4" font-size="7">+</tspan><tspan dy="3.8"> production (<tspan style="font-weight:normal">&#181;</tspan>g/g)</tspan></text>
<text transform="translate(26.865,557.333) scale(1.0677,1.0667)" style="font-size:16px;;stroke-width:0.375px">NH<tspan dy="4.0" font-size="10.3">4</tspan><tspan dy="-8.6" font-size="10.3">+</tspan></text>
<text transform="translate(118.277,556.833) scale(1.0586,1.0667)" style="font-size:16px;;stroke-width:0.376px">NH<tspan dy="4.0" font-size="10.3">4</tspan><tspan dy="-8.6" font-size="10.3">+</tspan></text>
<text transform="translate(74.400,545.470) scale(1.0126,1.0246)" style="font-size:16px;;stroke-width:0.393px">Ape</text>
<text transform="translate(211.314,543.334) scale(1.0478,1.0638)" style="font-size:16px;;stroke-width:0.379px">Gln</text>
<text transform="translate(246.443,532.528) scale(1.0097,1.0870)" style="font-size:16px;;stroke-width:0.382px">GOGAT</text>
<text transform="translate(315.404,543.530) scale(1.0609,1.0809)" style="font-size:16px;;stroke-width:0.374px">Glu</text>
<text transform="translate(209.617,577.536) scale(1.0435,1.0553)" style="font-size:16px;;stroke-width:0.381px">Glu</text>
<text transform="translate(398.727,640.600) scale(1.1462,1.0286)" style="font-size:10px;">0.0</text>
<text transform="translate(398.727,595.050) scale(1.1462,1.0286)" style="font-size:10px;">0.5</text>
<text transform="translate(398.424,549.500) scale(1.1686,1.0286)" style="font-size:10px;">1.0</text>
<text transform="translate(398.424,503.950) scale(1.1686,1.0667)" style="font-size:10px;">1.5</text>
<text transform="translate(398.727,458.400) scale(1.1462,1.0286)" style="font-size:10px;">2.0</text>
<text transform="translate(445.300,463.700) scale(1.1592,0.9636)" style="font-size:8px;;stroke-width:0.358px">WT</text>
<text transform="translate(444.810,474.000) scale(1.1592,0.8909)" style="font-size:8px;;stroke-width:0.371px">&#916;<tspan style="font-style:italic">MaNCP1</tspan></text>
<text transform="translate(467.504,543.900) scale(0.8528,0.7789)" style="font-size:9px;;stroke-width:0.429px">n.s.</text>
<text transform="translate(534.064,545.400) scale(0.8528,0.8211)" style="font-size:9px;;stroke-width:0.418px">n.s.</text>
<text transform="rotate(-90) translate(-596.663,393.564) scale(1.0171,1.0381)" style="font-size:11.4px;font-weight:bold">Relative expression</text>
</svg></body></html>
